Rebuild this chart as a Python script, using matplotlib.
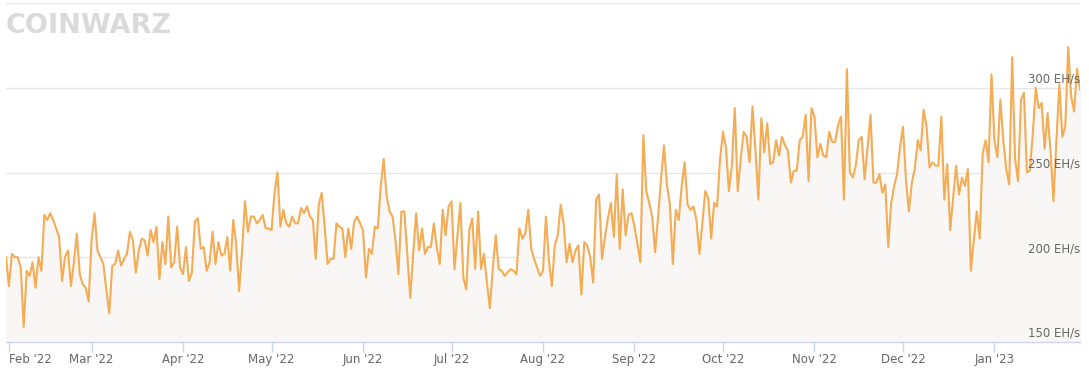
import matplotlib
matplotlib.use('Agg')
import matplotlib.pyplot as plt
import matplotlib.dates as mdates
import numpy as np
import pandas as pd

# daily network hashrate, EH/s
start_date = '2022-01-31'
hashrate = [
    200, 183, 202, 200, 200, 194, 159, 192, 189, 197, 182, 200, 192, 225, 222, 226, 222, 217, 212, 186,
    200, 204, 183, 197, 214, 190, 184, 182, 174, 210, 226, 204, 200, 196, 181, 167, 195, 196, 204, 195,
    199, 202, 215, 210, 191, 204, 211, 210, 201, 216, 209, 218, 187, 209, 196, 224, 194, 197, 218, 194,
    190, 206, 186, 191, 221, 223, 205, 206, 192, 197, 215, 196, 209, 201, 202, 212, 192, 222, 208, 180,
    204, 233, 215, 224, 224, 220, 222, 225, 217, 217, 216, 238, 250, 218, 228, 220, 218, 224, 220, 220,
    229, 226, 230, 224, 222, 199, 231, 238, 218, 196, 199, 199, 220, 218, 217, 200, 217, 205, 221, 224,
    220,
    216, 188, 205, 202, 218, 217, 242, 258, 236, 227, 224, 210, 190, 227, 227, 202, 176, 202, 226, 204,
    217, 202, 206, 206, 220, 206, 196, 228, 213, 230, 233, 193, 213, 232, 188, 181, 216, 223, 193, 227,
    193, 202, 185, 170, 194, 213, 193, 192, 189, 191, 193, 192, 190, 217, 211, 214, 228, 205, 199, 194,
    189, 192, 224, 198, 183, 207, 213, 231, 220, 197, 208, 197, 204, 207, 178, 209, 207, 200, 185, 234,
    237, 199, 212, 223, 232, 212, 249, 205, 240, 213, 225, 226, 218, 208, 197, 272, 239, 232, 224, 203,
    224, 246, 266, 243, 231, 196, 228, 222, 242, 256, 231, 228, 230, 222, 202, 220, 239, 235, 211, 232,
    230, 258,
    274, 265, 239, 254, 288, 239, 258, 274, 271, 256, 289, 263, 234, 282, 262, 279, 255, 256, 269, 260,
    271, 266, 263, 244, 251, 251, 269, 271, 284, 245, 288, 283, 259, 267, 260, 259, 274, 268, 268, 278,
    283, 234, 311, 250, 247, 254, 269, 271, 246, 265, 284, 244, 244, 249, 238, 243, 206, 232, 242, 249,
    265, 277, 246, 227, 244, 252, 269, 263, 287, 277, 253, 256, 254, 254, 283, 234, 255, 216, 235, 254,
    237, 247, 242, 252, 192, 210, 227, 211, 261, 269, 256, 308, 269, 259,
    293, 269, 252, 243, 318, 258, 245, 293, 297, 250, 251, 273, 300, 288, 291, 264, 285, 263, 233, 269,
    302, 271, 277, 324, 295, 286, 311, 299,
]

y_ticks = [150, 200, 250, 300, 350]
y_tick_labels = ['150 EH/s', '200 EH/s', '250 EH/s', '300 EH/s', '']

dates = pd.date_range(start_date, periods=len(hashrate), freq='D')

fig = plt.figure(figsize=(10.89, 3.75), dpi=100)
ax = fig.add_axes([6 / 1089, 1 - 342 / 375, 1074 / 1089, 339 / 375])

ax.fill_between(dates, hashrate, 150, color='#f9f7f5', zorder=1)
ax.plot(dates, hashrate, color='#f4ac55', linewidth=1.5, zorder=3)

ax.set_xlim(dates[0], dates[-1])
ax.set_ylim(150, 350)

ax.set_yticks(y_ticks)
ax.yaxis.grid(True, color='#e6e6e6', linewidth=1)
ax.set_axisbelow(True)
ax.tick_params(axis='y', length=0, labelleft=False)
for v, lab in zip(y_ticks, y_tick_labels):
    ax.text(1.0, v + 1.2, lab, transform=ax.get_yaxis_transform(), ha='right', va='bottom',
            fontsize=8.5, color='#666666', zorder=4)

ax.xaxis.set_major_locator(mdates.MonthLocator())
ax.xaxis.set_major_formatter(mdates.DateFormatter("%b '%y"))
ax.tick_params(axis='x', length=7, width=1, color='#ccd6eb', labelsize=8.5,
               labelcolor='#666666', pad=1)
fig.canvas.draw()
ax.get_xticklabels()[0].set_horizontalalignment('left')
ax.get_xticklabels()[0].set_x(0)

for s in ['top', 'right', 'left']:
    ax.spines[s].set_visible(False)
ax.spines['bottom'].set_color('#ccd6eb')
ax.spines['bottom'].set_linewidth(1)

# watermark
fig.text(6 / 1089, 1 - 33 / 375, 'COINWARZ', fontsize=19.5, fontweight='heavy',
         color='#dadada', ha='left', va='baseline', family='DejaVu Sans')

fig.savefig('out.png', dpi=100)
